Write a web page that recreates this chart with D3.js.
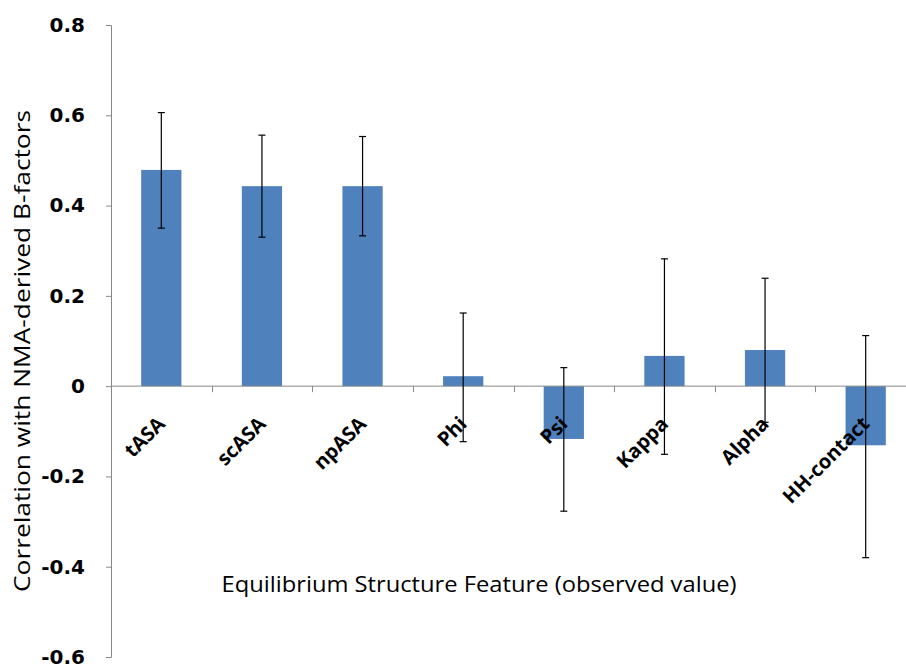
<!DOCTYPE html>
<html>
<head>
<meta charset="utf-8">
<script src="https://cdn.jsdelivr.net/npm/d3@7"></script>
<style>
  body { margin: 0; background: #fff; }
  svg { display: block; }
</style>
</head>
<body>
<div id="chart"></div>
<script>
// values
var features = ["tASA", "scASA", "npASA", "Phi", "Psi", "Kappa", "Alpha", "HH-contact"];
var correlations = [0.479, 0.443, 0.443, 0.022, -0.117, 0.067, 0.080, -0.131];
var errHigh = [0.606, 0.556, 0.553, 0.162, 0.041, 0.282, 0.239, 0.112];
var errLow = [0.350, 0.330, 0.333, -0.123, -0.277, -0.151, -0.080, -0.380];
var yTicks = [0.8, 0.6, 0.4, 0.2, 0, -0.2, -0.4, -0.6];

var width = 906, height = 668;
var margin = { top: 25, right: -10, bottom: 11, left: 111 };

var svg = d3.select("#chart").append("svg")
  .attr("width", width)
  .attr("height", height);

var x = d3.scaleBand()
  .domain(features)
  .range([margin.left, width - margin.right])
  .paddingInner(0.6)
  .paddingOuter(0.3);

var y = d3.scaleLinear()
  .domain([-0.6, 0.8])
  .range([height - margin.bottom, margin.top]);

var axisColor = "#888";

// y axis
var yAxis = d3.axisLeft(y)
  .tickValues(yTicks)
  .tickSize(5)
  .tickPadding(21)
  .tickFormat(function (d) { return d == 0 ? "0" : d3.format(".1f")(d).replace("\u2212", "-"); });

var gy = svg.append("g")
  .attr("transform", "translate(" + margin.left + ",0)")
  .call(yAxis);
gy.select(".domain").attr("stroke", axisColor);
gy.selectAll(".tick line").attr("stroke", axisColor);
gy.selectAll(".tick text")
  .style("font-family", "DejaVu Sans")
  .style("font-weight", "bold")
  .style("font-size", "20px")
  .attr("fill", "#000");

// bars
svg.append("g").selectAll("rect")
  .data(features)
  .enter().append("rect")
  .attr("x", function (d) { return x(d); })
  .attr("width", x.bandwidth())
  .attr("y", function (d, i) { return y(Math.max(0, correlations[i])); })
  .attr("height", function (d, i) { return Math.abs(y(correlations[i]) - y(0)); })
  .attr("fill", "#4F81BD");

// x axis line at zero with category boundary ticks
var x0 = y(0);
svg.append("line")
  .attr("x1", margin.left).attr("x2", width)
  .attr("y1", x0).attr("y2", x0)
  .attr("stroke", axisColor);

svg.append("g").selectAll("line")
  .data(features.slice(1))
  .enter().append("line")
  .attr("x1", function (d) { return Math.round(x(d) - x.bandwidth() * 0.75) + 0.5; })
  .attr("x2", function (d) { return Math.round(x(d) - x.bandwidth() * 0.75) + 0.5; })
  .attr("y1", x0).attr("y2", x0 + 6)
  .attr("stroke", axisColor);

// error bars
var eb = svg.append("g").attr("stroke", "#000").attr("stroke-width", 1.2);
features.forEach(function (f, i) {
  var cx = x(f) + x.bandwidth() / 2;
  eb.append("line").attr("x1", cx).attr("x2", cx)
    .attr("y1", y(errHigh[i])).attr("y2", y(errLow[i]));
  eb.append("line").attr("x1", cx - 3.5).attr("x2", cx + 3.5)
    .attr("y1", y(errHigh[i])).attr("y2", y(errHigh[i]));
  eb.append("line").attr("x1", cx - 3.5).attr("x2", cx + 3.5)
    .attr("y1", y(errLow[i])).attr("y2", y(errLow[i]));
});

// category labels
svg.append("g").selectAll("text")
  .data(features)
  .enter().append("text")
  .attr("transform", function (d) {
    return "translate(" + (x(d) + x.bandwidth() / 2 + 5) + "," + (x0 + 39) + ") rotate(-45)";
  })
  .attr("text-anchor", "end")
  .style("font-family", "Open Sans")
  .style("font-weight", "bold")
  .style("font-size", "20px")
  .text(function (d) { return d; });

// axis titles
svg.append("text")
  .attr("transform", "translate(30," + (margin.top + 326) + ") rotate(-90)")
  .attr("text-anchor", "middle")
  .attr("textLength", 482)
  .attr("lengthAdjust", "spacingAndGlyphs")
  .style("font-family", "Open Sans")
  .style("font-size", "21px")
  .text("Correlation with NMA-derived B-factors");

svg.append("text")
  .attr("x", 479)
  .attr("y", 592)
  .attr("text-anchor", "middle")
  .attr("textLength", 515)
  .attr("lengthAdjust", "spacingAndGlyphs")
  .style("font-family", "Open Sans")
  .style("font-size", "21px")
  .text("Equilibrium Structure Feature (observed value)");
</script>
</body>
</html>
